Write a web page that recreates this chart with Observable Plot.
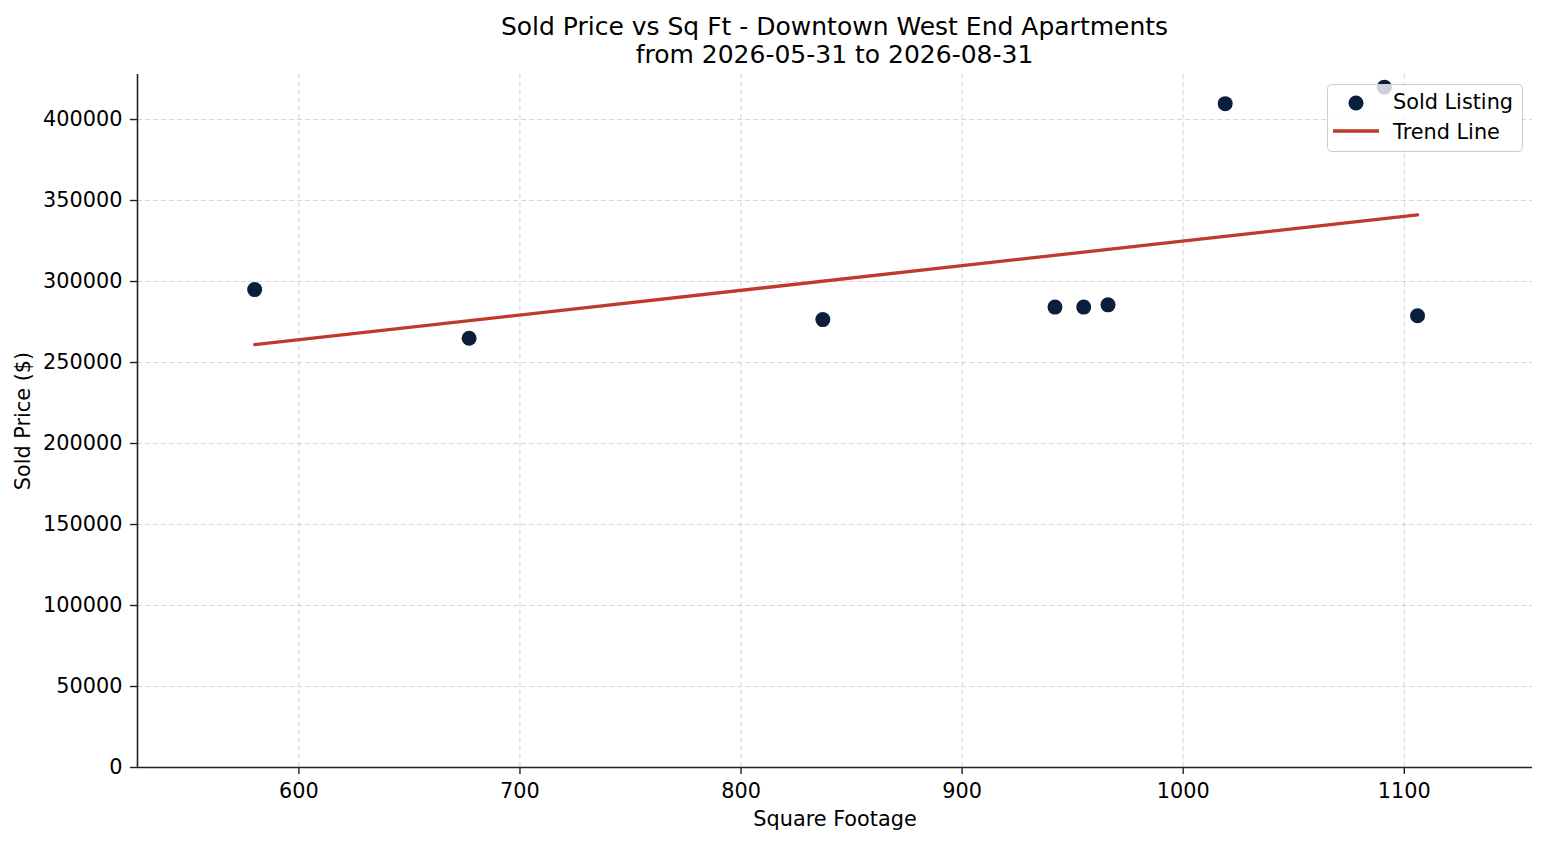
<!DOCTYPE html>
<html>
<head>
<meta charset="utf-8">
<script src="https://cdn.jsdelivr.net/npm/d3@7"></script>
<script src="https://cdn.jsdelivr.net/npm/@observablehq/plot@0.6"></script>
<style>
  html, body { margin: 0; padding: 0; background: #fff; }
  body { width: 1547px; height: 845px; position: relative; overflow: hidden; font-family: "DejaVu Sans", sans-serif; }
  #title { position: absolute; left: 137px; width: 1395px; top: 13px; text-align: center; font-size: 25px; line-height: 28px; color: #000; }
  #chart { position: absolute; left: 0; top: 70px; }
  #legend { position: absolute; left: 1327px; top: 84px; }
</style>
</head>
<body>
<div id="title">Sold Price vs Sq Ft - Downtown West End Apartments<br>from 2026-05-31 to 2026-08-31</div>
<div id="chart"></div>
<svg id="legend" width="197" height="69"></svg>
<script>
// Data
const sqft  = [580, 677, 837, 942, 955, 966, 1019, 1091, 1106];
const price = [295000, 265000, 276500, 284200, 284200, 285600, 409800, 420000, 278900];
const xTicks = [600, 700, 800, 900, 1000, 1100];
const yTicks = [0, 50000, 100000, 150000, 200000, 250000, 300000, 350000, 400000];
const xDomain = [527, 1158];
const yDomain = [0, 427800];
const xLabel = "Square Footage";
const yLabel = "Sold Price ($)";
const legendLabels = ["Sold Listing", "Trend Line"];

const dotColor = "#0b1f3d";
const lineColor = "#c0392b";
const fs = 20.8;

const rows = sqft.map((x, i) => ({x, y: price[i]}));

const chart = Plot.plot({
  width: 1547,
  height: 775,
  marginTop: 4,
  marginBottom: 78,
  marginLeft: 137,
  marginRight: 15,
  style: {fontFamily: "DejaVu Sans", fontSize: fs + "px", color: "#000", background: "#fff"},
  x: {domain: xDomain},
  y: {domain: yDomain},
  marks: [
    Plot.gridX(xTicks, {stroke: "#cfcfcf", strokeOpacity: 1, strokeWidth: 0.9, strokeDasharray: "5,3"}),
    Plot.gridY(yTicks, {stroke: "#cfcfcf", strokeOpacity: 1, strokeWidth: 0.9, strokeDasharray: "5,3"}),
    Plot.axisX({ticks: xTicks, tickFormat: d => String(d), tickSize: 7, tickPadding: 9, label: null, stroke: "#222", strokeWidth: 1.4, fontSize: fs}),
    Plot.axisY({ticks: yTicks, tickFormat: d => String(d), tickSize: 7, tickPadding: 8, label: null, stroke: "#222", strokeWidth: 1.4, fontSize: fs}),
    Plot.ruleY([yDomain[0]], {stroke: "#222", strokeWidth: 1.6}),
    Plot.ruleX([xDomain[0]], {stroke: "#222", strokeWidth: 1.6}),
    Plot.dot(rows, {x: "x", y: "y", r: 7.5, fill: dotColor, stroke: "none"}),
    Plot.linearRegressionY(rows, {x: "x", y: "y", ci: 0, stroke: lineColor, strokeWidth: 3.3}),
    Plot.text([xLabel], {text: d => d, frameAnchor: "bottom", textAnchor: "middle", dy: 58, fontSize: fs, fill: "#000"}),
    Plot.text([yLabel], {text: d => d, frameAnchor: "left", textAnchor: "middle", dx: -114, rotate: -90, fontSize: fs, fill: "#000"})
  ]
});
document.getElementById("chart").appendChild(chart);

// Legend
const lg = d3.select("#legend");
lg.append("rect").attr("x", 0.5).attr("y", 0.5).attr("width", 195).attr("height", 67)
  .attr("rx", 4).attr("fill", "white").attr("fill-opacity", 0.8).attr("stroke", "#cccccc").attr("stroke-width", 1);
lg.append("circle").attr("cx", 29).attr("cy", 19).attr("r", 7.5).attr("fill", dotColor);
lg.append("line").attr("x1", 6).attr("x2", 52).attr("y1", 47).attr("y2", 47).attr("stroke", lineColor).attr("stroke-width", 3.3);
lg.selectAll("text.l").data(legendLabels).join("text")
  .attr("x", 66).attr("y", (d, i) => 18 + i * 30).attr("dy", "0.35em")
  .attr("font-family", "DejaVu Sans").attr("font-size", fs).attr("fill", "#000").text(d => d);
</script>
</body>
</html>
